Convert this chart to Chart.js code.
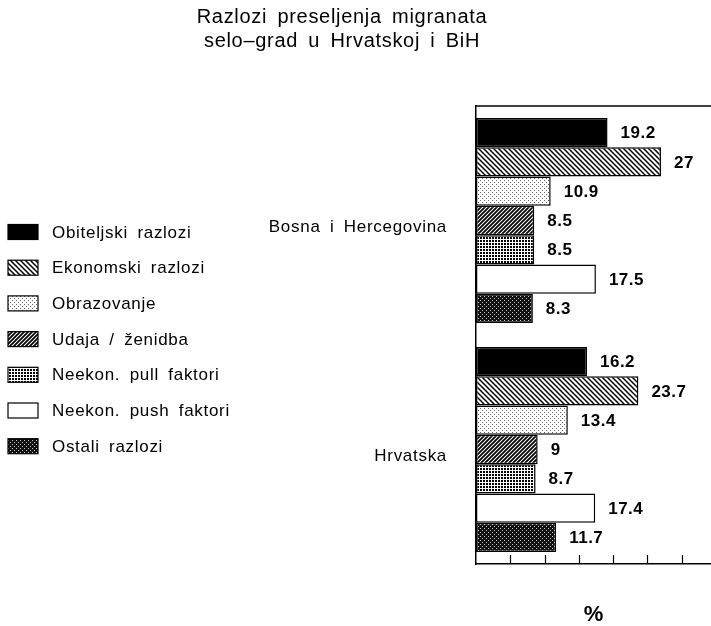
<!DOCTYPE html>
<html>
<head>
<meta charset="utf-8">
<title>Razlozi preseljenja migranata</title>
<script src="https://cdn.jsdelivr.net/npm/chart.js@4/dist/chart.umd.min.js"></script>
<style>
  body { margin: 0; background: #fff; }
  #chart { display: block; }
</style>
</head>
<body>
<canvas id="chart" width="711" height="626"></canvas>
<script>
// Data
const titleLines = ['Razlozi preseljenja migranata', 'selo–grad u Hrvatskoj i BiH'];
const regions = ['Bosna i Hercegovina', 'Hrvatska'];
const reasons = [
    'Obiteljski razlozi',
    'Ekonomski razlozi',
    'Obrazovanje',
    'Udaja / ženidba',
    'Neekon. pull faktori',
    'Neekon. push faktori',
    'Ostali razlozi'
];
// one array per reason: [BiH, Hrvatska]
const obiteljski = [19.2, 16.2];
const ekonomski = [27, 23.7];
const obrazovanje = [10.9, 13.4];
const udaja = [8.5, 9];
const pullFaktori = [8.5, 8.7];
const pushFaktori = [17.5, 17.4];
const ostali = [8.3, 11.7];
const xTicks = [5, 10, 15, 20, 25, 30];

const FONT = '"Liberation Sans", Arial, Helvetica, sans-serif';

// Build a small repeating canvas pattern
function makePattern(size, drawFn) {
    const c = document.createElement('canvas');
    c.width = size;
    c.height = size;
    const g = c.getContext('2d');
    drawFn(g, size);
    return g.createPattern(c, 'repeat');
}

function diagonal(dir, size, width) {
    return makePattern(size, (g, s) => {
        g.fillStyle = '#fff';
        g.fillRect(0, 0, s, s);
        g.strokeStyle = '#000';
        g.lineWidth = width;
        g.beginPath();
        if (dir === 'back') {
            g.moveTo(-1, -1); g.lineTo(s + 1, s + 1);
            g.moveTo(-1, s - 1); g.lineTo(1, s + 1);
            g.moveTo(s - 1, -1); g.lineTo(s + 1, 1);
        } else {
            g.moveTo(-1, s + 1); g.lineTo(s + 1, -1);
            g.moveTo(-1, 1); g.lineTo(1, -1);
            g.moveTo(s - 1, s + 1); g.lineTo(s + 1, s - 1);
        }
        g.stroke();
    });
}

const fills = [
    '#000',
    diagonal('back', 5, 1.5),
    makePattern(4, (g, s) => {
        g.fillStyle = '#fff';
        g.fillRect(0, 0, s, s);
        g.fillStyle = '#666';
        g.fillRect(0, 0, 1, 1);
        g.fillRect(2, 2, 1, 1);
    }),
    diagonal('fwd', 4, 1.8),
    makePattern(3, (g, s) => {
        g.fillStyle = '#fff';
        g.fillRect(0, 0, s, s);
        g.fillStyle = '#000';
        g.fillRect(0, 0, 2, 2);
    }),
    '#fff',
    makePattern(4, (g, s) => {
        g.fillStyle = '#111';
        g.fillRect(0, 0, s, s);
        g.fillStyle = '#ccc';
        g.fillRect(0, 0, 1, 1);
        g.fillRect(2, 2, 1, 1);
    })
];

const seriesValues = [obiteljski, ekonomski, obrazovanje, udaja, pullFaktori, pushFaktori, ostali];

const datasets = reasons.map((name, i) => ({
    label: name,
    data: seriesValues[i],
    backgroundColor: fills[i],
    borderColor: '#000',
    borderWidth: 1.5,
    borderSkipped: false,
    barPercentage: 1,
    categoryPercentage: 0.895
}));

function setText(ctx, font, spacing, words) {
    ctx.font = font;
    ctx.letterSpacing = spacing;
    ctx.wordSpacing = words;
    ctx.fillStyle = '#000';
}

// Draws title, legend, group labels, value labels, frame and inward ticks
const decorations = {
    id: 'decorations',
    afterDatasetsDraw(chart) {
        const ctx = chart.ctx;
        ctx.save();
        setText(ctx, 'bold 17px ' + FONT, '0.5px', '0px');
        ctx.textAlign = 'left';
        ctx.textBaseline = 'middle';
        chart.data.datasets.forEach((ds, i) => {
            chart.getDatasetMeta(i).data.forEach((bar, j) => {
                ctx.fillText(String(ds.data[j]), bar.x + 13, bar.y + 1);
            });
        });
        ctx.restore();
    },
    afterDraw(chart) {
        const ctx = chart.ctx;
        const area = chart.chartArea;
        const xScale = chart.scales.x;
        const yScale = chart.scales.y;
        ctx.save();

        // title
        setText(ctx, '20px ' + FONT, '0.7px', '4px');
        ctx.textAlign = 'center';
        ctx.textBaseline = 'alphabetic';
        ctx.fillText(titleLines[0], 342, 23);
        ctx.fillText(titleLines[1], 342, 47);

        // top edge of the frame
        ctx.strokeStyle = '#000';
        ctx.lineWidth = 1.5;
        ctx.beginPath();
        ctx.moveTo(area.left, area.top);
        ctx.lineTo(area.right, area.top);
        ctx.stroke();

        // tick marks pointing into the plot
        ctx.lineWidth = 1.2;
        ctx.beginPath();
        xTicks.forEach(v => {
            const x = Math.round(xScale.getPixelForValue(v)) + 0.5;
            ctx.moveTo(x, area.bottom);
            ctx.lineTo(x, area.bottom - 9);
        });
        ctx.stroke();

        // group labels
        setText(ctx, '17px ' + FONT, '0.7px', '4px');
        ctx.textAlign = 'right';
        ctx.textBaseline = 'alphabetic';
        regions.forEach((name, i) => {
            ctx.fillText(name, 447, yScale.getPixelForValue(i) + 11);
        });

        // legend
        ctx.textAlign = 'left';
        ctx.textBaseline = 'middle';
        chart.data.datasets.forEach((ds, i) => {
            const cy = 232 + i * 35.7;
            ctx.fillStyle = ds.backgroundColor;
            ctx.fillRect(8, cy - 7.5, 30, 15);
            ctx.lineWidth = 1.2;
            ctx.strokeRect(8, cy - 7.5, 30, 15);
            ctx.fillStyle = '#000';
            ctx.fillText(ds.label, 52, cy + 1);
        });

        ctx.restore();
    }
};

function initChart() {
    const ctx = document.getElementById('chart').getContext('2d');
    new Chart(ctx, {
        type: 'bar',
        data: {
            labels: regions,
            datasets: datasets
        },
        options: {
            indexAxis: 'y',
            responsive: false,
            animation: false,
            layout: {
                padding: { top: 106, left: 476, right: 0, bottom: 0 }
            },
            plugins: {
                legend: { display: false },
                title: { display: false },
                tooltip: { enabled: false }
            },
            scales: {
                x: {
                    min: 0,
                    max: 34.3,
                    ticks: { display: false, stepSize: 5 },
                    grid: { display: false, drawTicks: false },
                    border: { display: true, color: '#000', width: 1.5 },
                    title: {
                        display: true,
                        text: '%',
                        color: '#000',
                        font: { family: FONT, size: 22, weight: 'bold', lineHeight: 1 },
                        padding: { top: 40, bottom: 0 }
                    }
                },
                y: {
                    ticks: { display: false },
                    grid: { display: false, drawTicks: false },
                    border: { display: true, color: '#000', width: 1.5 }
                }
            }
        },
        plugins: [decorations]
    });
}

document.addEventListener('DOMContentLoaded', initChart);
</script>
</body>
</html>
